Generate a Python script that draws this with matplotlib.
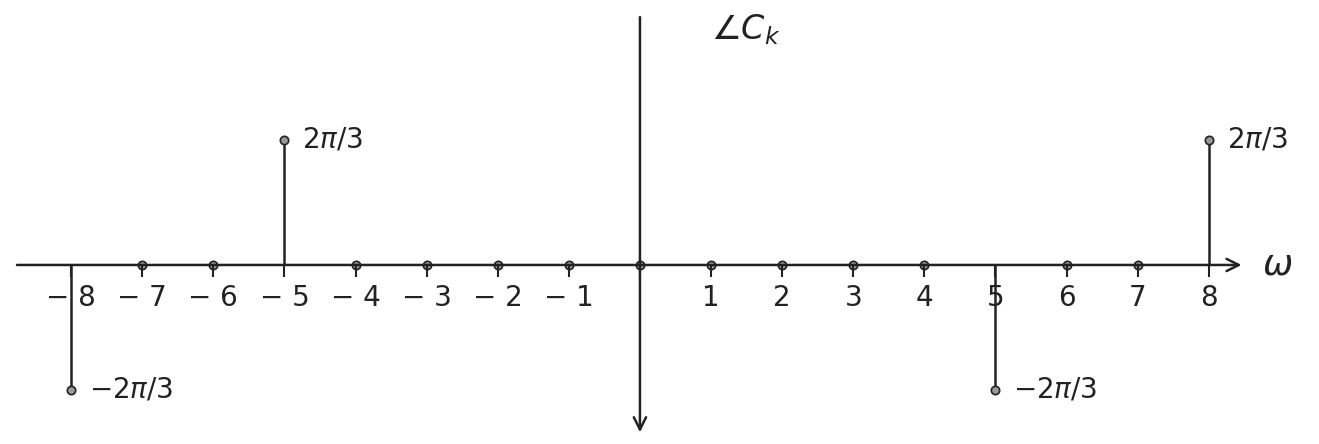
import numpy as np
import matplotlib.pyplot as plt

# harmonic index and the phase of each coefficient
k = np.arange(-8, 9)
phase = np.zeros(len(k))
phase[k == -8] = -2 * np.pi / 3
phase[k == -5] = 2 * np.pi / 3
phase[k == 5] = -2 * np.pi / 3
phase[k == 8] = 2 * np.pi / 3

tick_labels = [str(v) for v in k if v != 0]
tick_pos = [v for v in k if v != 0]

# stems that carry a value label
label_k = [-8, -5, 5, 8]
label_txt = [r"$-2\pi/3$", r"$2\pi/3$", r"$-2\pi/3$", r"$2\pi/3$"]

ink = "#222222"

fig = plt.figure(figsize=(13.19, 4.44), dpi=100)
ax = fig.add_axes([0, 0, 1, 1])
ax.set_xlim(-9.0, 9.55)
ax.set_ylim(-3.0, 4.44)
ax.axis("off")

# horizontal axis with arrow
ax.annotate("", xy=(8.5, 0), xytext=(-8.8, 0),
            arrowprops=dict(arrowstyle="->", color=ink, lw=1.8, mutation_scale=22))
ax.text(8.75, 0, r"$\omega$", fontsize=26, va="center", ha="left", color=ink)

# vertical axis, arrow pointing down like the drawing
ax.annotate("", xy=(0, -2.85), xytext=(0, 4.2),
            arrowprops=dict(arrowstyle="->", color=ink, lw=1.8, mutation_scale=22))
ax.text(1.0, 3.95, r"$\angle C_k$", fontsize=24, va="center", ha="left", color=ink)

# stems
markerline, stemlines, baseline = ax.stem(k, phase, basefmt=" ")
plt.setp(stemlines, color=ink, linewidth=1.8)
plt.setp(markerline, marker="o", markersize=6, markerfacecolor="#999999",
         markeredgecolor=ink, markeredgewidth=1.2)

# little ticks under each point
ax.vlines(k, -0.2, 0, color=ink, linewidth=1.5)

# tick labels
for p, t in zip(tick_pos, tick_labels):
    ax.text(p, -0.55, t.replace("-", "\u2212 "), fontsize=20, ha="center", va="center", color=ink)

# value labels near stem tips
for kk, t in zip(label_k, label_txt):
    y = phase[k == kk][0]
    ax.text(kk + 0.25, y, t, fontsize=20, ha="left", va="center", color=ink)

plt.savefig("out.png")
plt.close()
